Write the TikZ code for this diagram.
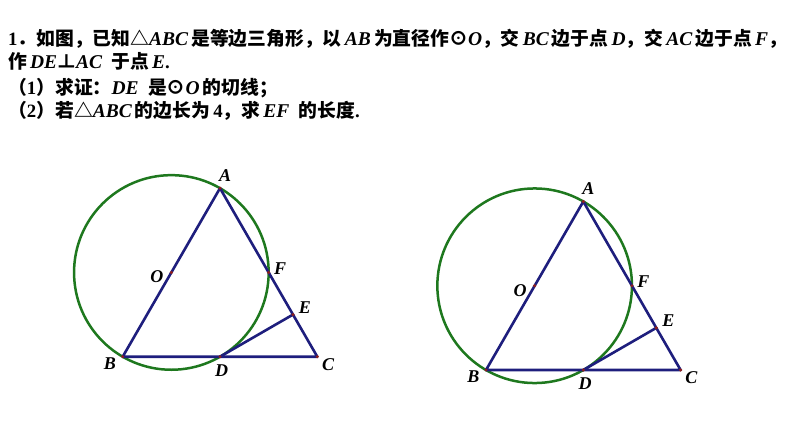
\documentclass[tikz,border=0pt]{standalone}
\usepackage{fontspec}
\setmainfont{Liberation Serif}
\newfontfamily\cjk{Noto Sans CJK SC}
\usetikzlibrary{calc}
\definecolor{navy}{RGB}{30,30,125}
\definecolor{cgreen}{RGB}{30,120,30}
\definecolor{dotred}{RGB}{140,30,30}
\newcommand{\zh}[1]{{\cjk\bfseries #1}}
\newcommand{\li}[1]{{\fontsize{19.5}{23}\selectfont\bfseries\itshape #1}}
\begin{document}
\begin{tikzpicture}[x=1pt,y=-1pt,
  txt/.style={anchor=base west,inner sep=0pt,font=\fontsize{18.8}{23}\selectfont},
  seg/.style={navy,line width=2.6pt,line cap=round,line join=round},
  circ/.style={cgreen,line width=2.5pt},
  pt/.style={circle,fill=dotred,inner sep=0pt,minimum size=3.4pt},
  lab/.style={inner sep=0pt,font=\fontsize{18}{18}\selectfont\bfseries\itshape}]
\useasboundingbox (0,0) rectangle (794,447);
\node[txt] (t1) at (8,45) {\textbf{1}\zh{．如图，已知△}\li{ABC}\,\zh{是等边三角形，以}\,\li{AB}\,\zh{为直径作⊙}\li{O}\zh{，交}\,\li{BC}\,\zh{边于点}\,\li{D}\zh{，交}\,\li{AC}\,\zh{边于点}\,\li{F}\zh{，}};
\node[txt] (t2) at (8,68) {\zh{作}\,\li{DE}\zh{⊥}\li{AC}\ \ \zh{于点}\,\li{E}\textbf{.}};
\node[txt] (t3) at (8,94) {\zh{（}\textbf{1}\zh{）求证：}\li{DE}\ \ \zh{是⊙}\li{O}\,\zh{的切线；}};
\node[txt] (t4) at (8,117) {\zh{（}\textbf{2}\zh{）若△}\li{ABC}\,\zh{的边长为}\,\textbf{4}\zh{，求}\,\li{EF}\ \ \zh{的长度}\textbf{.}};
\foreach \i/\bx/\by in {1/122.7/356.7, 2/486/370}{
  \coordinate (B\i) at (\bx,\by);
  \coordinate (C\i) at ($(B\i)+(194.6,0)$);
  \coordinate (A\i) at ($(B\i)+(97.3,-168.5)$);
  \coordinate (D\i) at ($(B\i)!0.5!(C\i)$);
  \coordinate (O\i) at ($(B\i)!0.5!(A\i)$);
  \coordinate (F\i) at ($(A\i)!0.5!(C\i)$);
  \coordinate (E\i) at ($(C\i)!0.25!(A\i)$);
  \draw[circ] (O\i) circle (97.3);
  \draw[seg] (A\i) -- (B\i) -- (C\i) -- cycle;
  \draw[seg] (D\i) -- (E\i);
  \foreach \p in {A,B,C,D,E,F,O}{\node[pt] at (\p\i) {};}
  \node[lab] (lA\i) at ($(A\i)+(5,-13)$) {A};
  \node[lab] (lO\i) at ($(O\i)+(-14.5,4.5)$) {O};
  \node[lab] (lF\i) at ($(F\i)+(11.5,-4)$) {F};
  \node[lab] (lE\i) at ($(E\i)+(12,-7)$) {E};
  \node[lab] (lB\i) at ($(B\i)+(-12.7,6.5)$) {B};
  \node[lab] (lD\i) at ($(D\i)+(1.7,13.5)$) {D};
  \node[lab] (lC\i) at ($(C\i)+(10.7,7.5)$) {C};
}
\end{tikzpicture}
\end{document}
